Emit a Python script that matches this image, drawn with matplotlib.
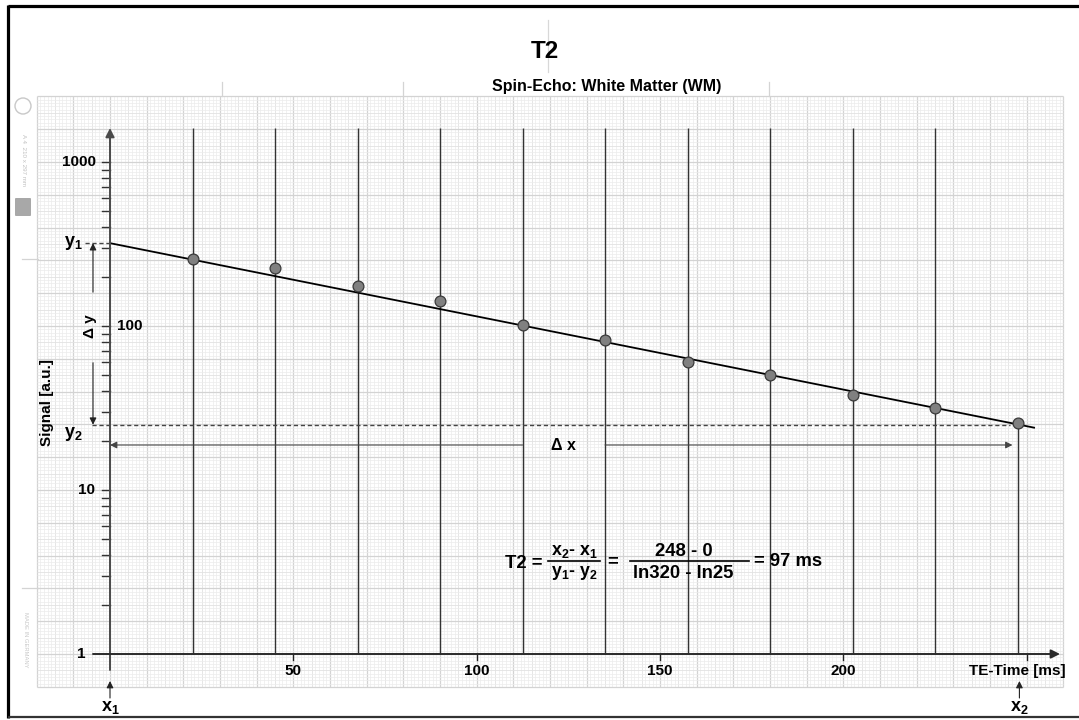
import numpy as np
import matplotlib
matplotlib.use('Agg')
import matplotlib.pyplot as plt
from matplotlib.transforms import blended_transform_factory as blend
from matplotlib.patches import Circle, FancyBboxPatch

plt.rcParams['font.family'] = ['Liberation Sans', 'DejaVu Sans']
plt.rcParams['font.weight'] = 'bold'
plt.rcParams['mathtext.fontset'] = 'custom'
plt.rcParams['mathtext.rm'] = 'Liberation Sans:bold'
plt.rcParams['mathtext.bf'] = 'Liberation Sans:bold'
plt.rcParams['mathtext.it'] = 'Liberation Sans:bold'
plt.rcParams['mathtext.default'] = 'rm'

# echo times [ms] and measured signal [a.u.]
te = [22.5, 45, 67.5, 90, 112.5, 135, 157.5, 180, 202.5, 225, 247.5]
signal = [256, 225, 176, 142, 102, 82, 60, 50, 38, 31.5, 25.7]

# values
x1, x2 = 0, 248
y1, y2 = 320, 25
fit_range = [0, 252]

xticks = [50, 100, 150, 200, 250]
xtick_labels = ['50', '100', '150', '200', '']
yticks = [1, 10, 100, 1000]
ytick_labels = ['1', '10', '100', '1000']

T2 = (x2 - x1) / (np.log(y1) - np.log(y2))

W, H = 1079, 720
fig = plt.figure(figsize=(W / 100, H / 100), dpi=100)
fig.patch.set_facecolor('white')

# data axes: 3.667 px per ms, 164 px per decade, origin at (110, 654)
ax = fig.add_axes([0, 0, 1, 1])
ax.set_yscale('log')
ax.set_xlim(-110 / 3.667, (W - 110) / 3.667)
ax.set_ylim(10 ** (-66 / 164), 10 ** ((H - 66) / 164))
ax.axis('off')

# pixel axes for the decorations (y counted from top)
axp = fig.add_axes([0, 0, 1, 1], zorder=3)
axp.set_xlim(0, W)
axp.set_ylim(H, 0)
axp.axis('off')

bx = blend(ax.transData, axp.transData)   # x in ms, y in pixels
by = blend(axp.transData, ax.transData)   # x in pixels, y in signal

# --- mm graph paper: 1 mm = 1 ms across, 0.02 decades up ---
mm = np.arange(-20, 261)
ylo, yhi = 10 ** -0.2, 10 ** 3.4
for sel, c, lw in [(mm % 5 != 0, '#ececec', 0.5),
                   ((mm % 5 == 0) & (mm % 10 != 0), '#e2e2e2', 0.6),
                   (mm % 10 == 0, '#d3d3d3', 0.9)]:
    ax.vlines(mm[sel], ylo, yhi, color=c, lw=lw, zorder=1)
ek = np.arange(-10, 171)
hy = 10.0 ** (ek * 0.02)
for sel, c, lw in [(ek % 5 != 0, '#ececec', 0.5),
                   ((ek % 5 == 0) & (ek % 10 != 0), '#e2e2e2', 0.6),
                   (ek % 10 == 0, '#d3d3d3', 0.9)]:
    ax.hlines(hy[sel], -20, 260, color=c, lw=lw, zorder=1)

# paper print marks
for yy in [259, 588]:
    axp.plot([22, 38], [yy, yy], color='#d4d4d4', lw=0.9)
for xx in [222, 403, 769]:
    axp.plot([xx, xx], [82, 96], color='#d4d4d4', lw=0.9)
axp.plot([548, 548], [20, 72], color='#d8d8d8', lw=0.9)
axp.add_patch(Circle((23, 106), 8, fill=False, ec='#c8c8c8', lw=1))
axp.add_patch(FancyBboxPatch((16, 199), 14, 16, boxstyle='round,pad=1',
                             fc='#a8a8a8', ec='none'))
axp.text(23, 160, 'A 4  210 x 297 mm', rotation=-90, fontsize=4.5,
         color='#c0c0c0', ha='center', va='center', fontweight='normal')
axp.text(25, 640, 'MADE IN GERMANY', rotation=-90, fontsize=4.2,
         color='#c8c8c8', ha='center', va='center', fontweight='normal')

# --- data ---
y_top = ax.transData.inverted().transform((0, H - 128))[1]
ax.vlines(te[:-1], 1, y_top, color='#333333', lw=1.0, zorder=3)
ax.vlines(te[-1], 1, signal[-1], color='#333333', lw=1.0, zorder=3)

ft = np.array(fit_range, dtype=float)
ax.plot(ft, y1 * np.exp(-(ft - x1) / T2), color='black', lw=1.3, zorder=4)
ax.plot(te, signal, 'o', ms=7.8, mfc='#808080', mec='#3a3a3a', mew=0.9, zorder=5)

# --- axes ---
arrow_kw = dict(arrowstyle='-|>', color='#2a2a2a', lw=1.4, mutation_scale=13,
                shrinkA=0, shrinkB=0)
axp.annotate('', xy=(x1, 128), xytext=(x1, 670), xycoords=bx, textcoords=bx,
             arrowprops=dict(arrow_kw, color='#4a4a4a'))
axp.annotate('', xy=(1060, 1), xytext=(93, 1), xycoords=by, textcoords=by,
             arrowprops=arrow_kw)

minor = [m * 10 ** k for k in range(3) for m in range(2, 10)] + yticks[1:]
for v in minor:
    axp.plot([102, 110], [v, v], transform=by, color='#333333', lw=1.0)
for v, lab, xp, ha in zip(yticks, ytick_labels, [85, 95, 117, 96],
                          ['right', 'right', 'left', 'right']):
    axp.text(xp, v, lab, transform=by, ha=ha, va='center', fontsize=11)

for t, lab in zip(xticks, xtick_labels):
    axp.plot([t, t], [654, 660], transform=bx, color='#222222', lw=1.0)
    axp.text(t, 671, lab, transform=bx, ha='center', va='center', fontsize=11)

axp.text(1017, 671, 'TE-Time [ms]', ha='center', va='center', fontsize=11)
axp.text(47, 403, 'Signal [a.u.]', rotation=90, ha='center', va='center',
         fontsize=11)

# --- titles ---
axp.text(545, 52, 'T2', ha='center', va='center', fontsize=17.5)
axp.text(607, 86, 'Spin-Echo: White Matter (WM)', ha='center', va='center',
         fontsize=11.5)

# --- y1 / y2 construction ---
dash = (0, (3, 2))
axp.plot([85, 110], [y1, y1], transform=by, ls=dash, color='#444444', lw=1.0)
axp.plot([92, 1010], [y2, y2], transform=by, ls=dash, color='#444444', lw=1.0)
axp.text(73, y1, 'y$_1$', transform=by, ha='center', va='center', fontsize=13)
axp.text(73, y2, 'y$_2$', transform=by, ha='center', va='top', fontsize=13)

thin = dict(arrowstyle='-|>', color='#222222', lw=0.8, mutation_scale=10,
            shrinkA=0, shrinkB=0)
axp.annotate('', xy=(93, y1), xycoords=by, xytext=(0, -49),
             textcoords='offset pixels', arrowprops=thin)
axp.annotate('', xy=(93, y2), xycoords=by, xytext=(0, 62),
             textcoords='offset pixels', arrowprops=thin)
axp.text(90, 326, 'Δ y', rotation=90, ha='center', va='center', fontsize=11)

# --- delta x ---
axp.annotate('', xy=(x1, 445), xytext=(te[4], 445), xycoords=bx, textcoords=bx,
             arrowprops=dict(thin, color='#444444'))
axp.annotate('', xy=(x2, 445), xytext=(te[5], 445), xycoords=bx, textcoords=bx,
             arrowprops=dict(thin, color='#444444', shrinkB=5))
axp.text((te[4] + te[5]) / 2, 446, 'Δ x', transform=bx, ha='center',
         va='center', fontsize=11.5)

# --- x1 / x2 markers below axis ---
for xv, lab in [(x1, 'x$_1$'), (x2, 'x$_2$')]:
    axp.annotate('', xy=(xv, 681), xytext=(xv, 698), xycoords=bx, textcoords=bx,
                 arrowprops=thin)
    axp.text(xv, 708, lab, transform=bx, ha='center', va='center', fontsize=13)

# --- formula ---
fs = 13.3
axp.text(505, 563, 'T2 =', ha='left', va='center', fontsize=fs)
axp.text(574, 551, 'x$_2$- x$_1$', ha='center', va='center', fontsize=fs - 0.5)
axp.plot([548, 600], [561, 561], color='black', lw=1.2)
axp.text(574, 573, 'y$_1$- y$_2$', ha='center', va='center', fontsize=fs - 0.5)
axp.text(613, 562, '=', ha='center', va='center', fontsize=fs)
axp.text(684, 551, f'{x2:g} - {x1:g}', ha='center', va='center', fontsize=fs)
axp.plot([630, 749], [561, 561], color='black', lw=1.2)
axp.text(683, 573, f'ln{y1:g} - ln{y2:g}', ha='center', va='center', fontsize=fs)
axp.text(754, 562, f'= {T2:.0f} ms', ha='left', va='center', fontsize=fs)

# --- page frame ---
axp.plot([8, 8], [5, 718], color='black', lw=2.3, solid_capstyle='butt')
axp.plot([8, W], [6, 6], color='black', lw=2.3, solid_capstyle='butt')
axp.plot([8, W], [717, 717], color='#333333', lw=1.6, solid_capstyle='butt')

fig.savefig('out.png', dpi=100)
